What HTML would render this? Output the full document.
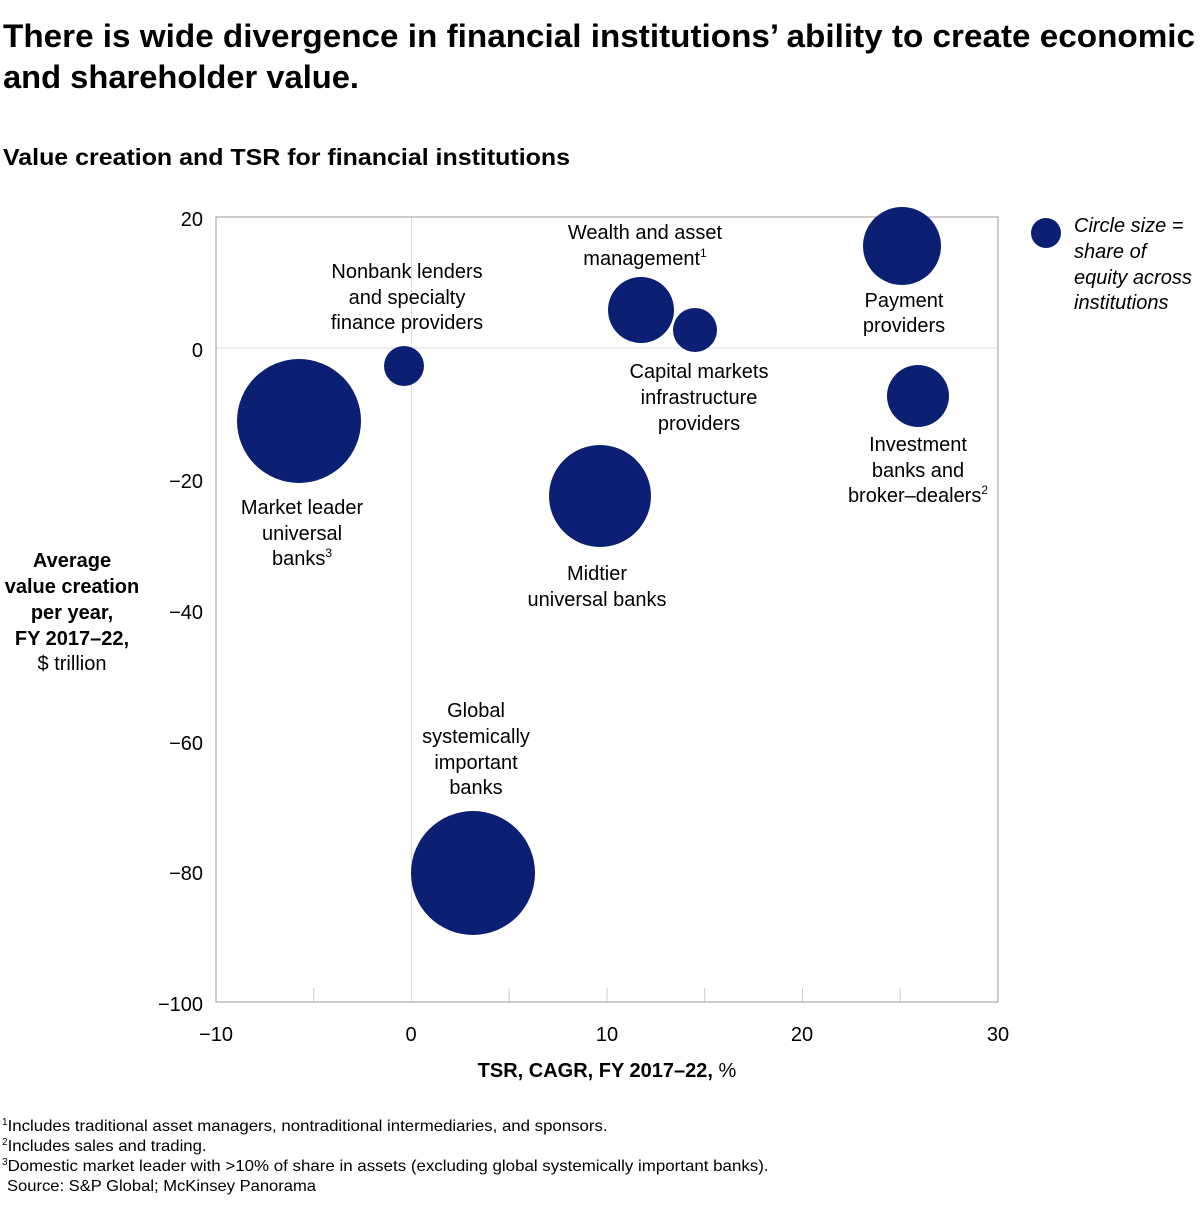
<!DOCTYPE html>
<html><head><meta charset="utf-8"><style>
html,body{margin:0;padding:0;background:#fff;}
body{width:1200px;height:1213px;overflow:hidden;}
svg text{font-family:"Liberation Sans",sans-serif;fill:#000;}
</style></head><body>
<svg width="1200" height="1213" xmlns="http://www.w3.org/2000/svg">
<text x="3" y="47" font-size="32" font-weight="bold" textLength="1192" lengthAdjust="spacingAndGlyphs">There is wide divergence in financial institutions’ ability to create economic</text>
<text x="3" y="88" font-size="32" font-weight="bold" textLength="356" lengthAdjust="spacingAndGlyphs">and shareholder value.</text>
<text x="3" y="165" font-size="23" font-weight="bold" textLength="567" lengthAdjust="spacingAndGlyphs">Value creation and TSR for financial institutions</text>
<line x1="411.5" y1="217" x2="411.5" y2="1002" stroke="#ddd" stroke-width="1"/>
<line x1="216" y1="348" x2="998" y2="348" stroke="#ddd" stroke-width="1"/>
<g stroke="#ccc" stroke-width="1">
<line x1="313.7" y1="988" x2="313.7" y2="1002"/>
<line x1="509.2" y1="988" x2="509.2" y2="1002"/>
<line x1="607" y1="988" x2="607" y2="1002"/>
<line x1="704.7" y1="988" x2="704.7" y2="1002"/>
<line x1="802.5" y1="988" x2="802.5" y2="1002"/>
<line x1="900.2" y1="988" x2="900.2" y2="1002"/>
</g>
<rect x="216" y="217" width="782" height="785" fill="none" stroke="#999" stroke-width="1"/>
<g font-size="20" text-anchor="end">
<text x="203" y="226">20</text>
<text x="203" y="357">0</text>
<text x="203" y="488">−20</text>
<text x="203" y="619">−40</text>
<text x="203" y="750">−60</text>
<text x="203" y="880">−80</text>
<text x="203" y="1011">−100</text>
</g>
<g font-size="20" text-anchor="middle">
<text x="216" y="1041">−10</text>
<text x="411" y="1041">0</text>
<text x="607" y="1041">10</text>
<text x="802" y="1041">20</text>
<text x="998" y="1041">30</text>
</g>
<text x="607" y="1077" font-size="20" text-anchor="middle"><tspan font-weight="bold">TSR, CAGR, FY 2017–22,</tspan> %</text>
<g font-size="20" text-anchor="middle">
<text x="72" y="567" font-weight="bold">Average</text>
<text x="72" y="593" font-weight="bold">value creation</text>
<text x="72" y="619" font-weight="bold">per year,</text>
<text x="72" y="645" font-weight="bold">FY 2017–22,</text>
<text x="72" y="670">$ trillion</text>
</g>
<g fill="#0b1f73">
<circle cx="299" cy="421" r="62"/>
<circle cx="404" cy="366" r="20"/>
<circle cx="641" cy="310" r="33"/>
<circle cx="695" cy="330" r="22"/>
<circle cx="902" cy="246" r="39"/>
<circle cx="918" cy="396" r="31"/>
<circle cx="600" cy="496" r="51"/>
<circle cx="473" cy="873" r="62"/>
<circle cx="1046" cy="233" r="15"/>
</g>
<g font-size="20" text-anchor="middle">
<text x="302" y="514">Market leader</text>
<text x="302" y="540">universal</text>
<text x="302" y="565">banks<tspan font-size="12" dy="-8">3</tspan></text>
<text x="407" y="278">Nonbank lenders</text>
<text x="407" y="304">and specialty</text>
<text x="407" y="329">finance providers</text>
<text x="645" y="239">Wealth and asset</text>
<text x="645" y="265">management<tspan font-size="12" dy="-8">1</tspan></text>
<text x="699" y="378">Capital markets</text>
<text x="699" y="404">infrastructure</text>
<text x="699" y="430">providers</text>
<text x="904" y="307">Payment</text>
<text x="904" y="332">providers</text>
<text x="918" y="451">Investment</text>
<text x="918" y="477">banks and</text>
<text x="918" y="502">broker–dealers<tspan font-size="12" dy="-8">2</tspan></text>
<text x="597" y="580">Midtier</text>
<text x="597" y="606">universal banks</text>
<text x="476" y="717">Global</text>
<text x="476" y="743">systemically</text>
<text x="476" y="769">important</text>
<text x="476" y="794">banks</text>
</g>
<g font-size="20" font-style="italic">
<text x="1074" y="232" fill="#444">Circle size =</text>
<text x="1074" y="258" fill="#444">share of</text>
<text x="1074" y="284" fill="#444">equity across</text>
<text x="1074" y="309" fill="#444">institutions</text>
</g>
<g font-size="16">
<text x="2" y="1131" fill="#444"><tspan font-size="10" dy="-6">1</tspan><tspan dy="6" textLength="600" lengthAdjust="spacingAndGlyphs">Includes traditional asset managers, nontraditional intermediaries, and sponsors.</tspan></text>
<text x="2" y="1151" fill="#444"><tspan font-size="10" dy="-6">2</tspan><tspan dy="6" textLength="199" lengthAdjust="spacingAndGlyphs">Includes sales and trading.</tspan></text>
<text x="2" y="1171" fill="#444"><tspan font-size="10" dy="-6">3</tspan><tspan dy="6" textLength="761" lengthAdjust="spacingAndGlyphs">Domestic market leader with &gt;10% of share in assets (excluding global systemically important banks).</tspan></text>
<text x="7" y="1191" fill="#444" textLength="309" lengthAdjust="spacingAndGlyphs">Source: S&amp;P Global; McKinsey Panorama</text>
</g>
</svg>
</body></html>
